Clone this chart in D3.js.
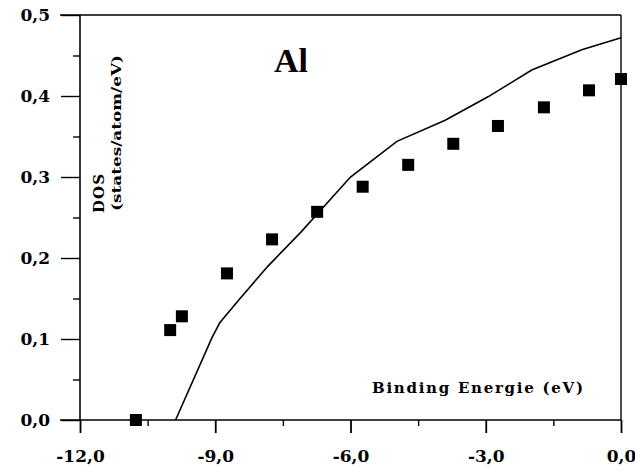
<!DOCTYPE html>
<html><head><meta charset="utf-8">
<script src="https://cdn.jsdelivr.net/npm/d3@7"></script>
<style>body{margin:0;background:#fff}</style>
</head><body>
<svg id="c" width="635" height="474"></svg>
<script>
const xTicks = [-12, -9, -6, -3, 0];
const xTickLabels = ["-12,0", "-9,0", "-6,0", "-3,0", "0,0"];
const yTicks = [0, 0.1, 0.2, 0.3, 0.4, 0.5];
const yTickLabels = ["0,0", "0,1", "0,2", "0,3", "0,4", "0,5"];
const expX = [-10.76, -10.0, -9.74, -8.74, -7.74, -6.74, -5.73, -4.72, -3.72, -2.73, -1.71, -0.71, 0.0];
const expY = [0.0, 0.111, 0.128, 0.181, 0.223, 0.257, 0.288, 0.315, 0.341, 0.363, 0.386, 0.407, 0.421];
const calcX = [-9.88, -9.07, -8.9, -8.45, -7.83, -7.1, -6.0, -4.97, -3.9, -2.95, -1.98, -0.87, 0.0];
const calcY = [0.0, 0.102, 0.12, 0.15, 0.19, 0.232, 0.30, 0.344, 0.370, 0.399, 0.432, 0.457, 0.472];

const svg = d3.select("#c");
const x = d3.scaleLinear().domain([-12, 0]).range([80, 621]);
const y = d3.scaleLinear().domain([0, 0.5]).range([420, 15]);
const g = svg.append("g");
const ser = "'Liberation Serif', serif";
const slab = "'DejaVu Serif', serif";

// frame lines
g.append("line").attr("x1", x(-12)).attr("x2", x(-12)).attr("y1", y(0.5)).attr("y2", y(0)).attr("stroke", "#000").attr("stroke-width", 1.6);
g.append("line").attr("x1", 60).attr("x2", x(0)).attr("y1", y(0.5)).attr("y2", y(0.5)).attr("stroke", "#000").attr("stroke-width", 1.4);
g.append("line").attr("x1", x(0)).attr("x2", x(0)).attr("y1", y(0.5)).attr("y2", y(0)).attr("stroke", "#000").attr("stroke-width", 1.4);
g.append("line").attr("x1", 60).attr("x2", x(0)).attr("y1", y(0)).attr("y2", y(0)).attr("stroke", "#000").attr("stroke-width", 1.4);

// x axis ticks
const xa = d3.axisBottom(x).tickValues(xTicks).tickSize(13).tickFormat((d, i) => xTickLabels[i]).tickPadding(17);
const xg = g.append("g").attr("transform", `translate(0,${y(0)})`).call(xa);
xg.select(".domain").remove();
xg.selectAll("line").attr("stroke-width", 1.8);
xg.selectAll("text").attr("font-family", slab).attr("font-weight", "bold").attr("font-size", 17).attr("fill", "#000");
const xm = d3.axisBottom(x).tickValues([-10.5, -7.5, -4.5, -1.5]).tickSize(6).tickFormat("");
const xmg = g.append("g").attr("transform", `translate(0,${y(0)})`).call(xm);
xmg.select(".domain").remove();
xmg.selectAll("line").attr("stroke-width", 1.4);

// y axis ticks
const ya = d3.axisLeft(y).tickValues(yTicks).tickSize(19).tickFormat((d, i) => yTickLabels[i]).tickPadding(11);
const yg = g.append("g").attr("transform", `translate(${x(-12)},0)`).call(ya);
yg.select(".domain").remove();
yg.selectAll("line").attr("stroke-width", 1.4);
yg.selectAll("text").attr("font-family", slab).attr("font-weight", "bold").attr("font-size", 17).attr("fill", "#000");
const ym = d3.axisLeft(y).tickValues([0.05, 0.15, 0.25, 0.35, 0.45]).tickSize(7).tickFormat("");
const ymg = g.append("g").attr("transform", `translate(${x(-12)},0)`).call(ym);
ymg.select(".domain").remove();
ymg.selectAll("line").attr("stroke-width", 1.4);

// calculated line
const calc = calcX.map((v, i) => [v, calcY[i]]);
g.append("path").datum(calc)
  .attr("d", d3.line().x(d => x(d[0])).y(d => y(d[1])))
  .attr("fill", "none").attr("stroke", "#000").attr("stroke-width", 1.6);

// experimental squares
const exp = expX.map((v, i) => [v, expY[i]]);
g.selectAll("rect.pt").data(exp).enter().append("rect")
  .attr("x", d => x(d[0]) - 6).attr("y", d => y(d[1]) - 6)
  .attr("width", 12).attr("height", 12).attr("fill", "#000");

// labels
svg.append("text").attr("x", 274).attr("y", 72).attr("font-family", ser).attr("font-weight", "bold").attr("font-size", 34).text("Al");
svg.append("text").attr("x", 372).attr("y", 393).attr("font-family", slab).attr("font-weight", "bold")
  .attr("font-size", 15).attr("textLength", 211).attr("lengthAdjust", "spacing").text("Binding Energie  (eV)");
svg.append("text").attr("transform", "translate(104,213) rotate(-90)").attr("font-family", slab)
  .attr("font-weight", "bold").attr("font-size", 15).attr("textLength", 39).attr("lengthAdjust", "spacing").text("DOS");
svg.append("text").attr("transform", "translate(121,211) rotate(-90)").attr("font-family", slab)
  .attr("font-weight", "bold").attr("font-size", 12.5).attr("textLength", 156).attr("lengthAdjust", "spacingAndGlyphs").text("(states/atom/eV)");
</script>
</body></html>
